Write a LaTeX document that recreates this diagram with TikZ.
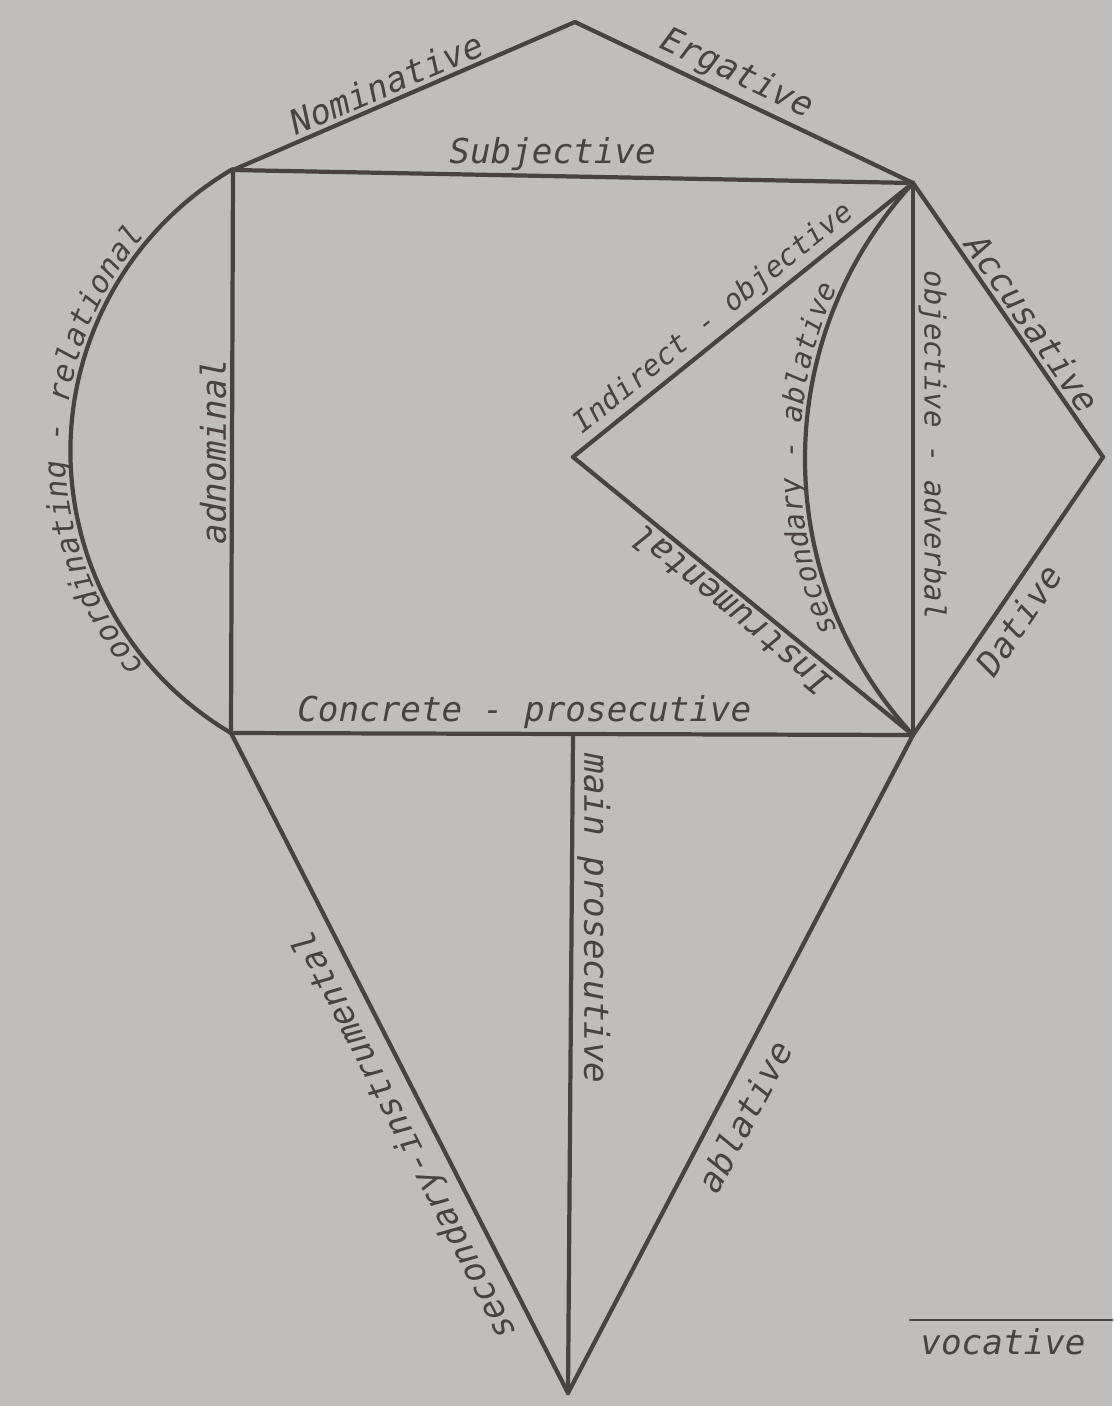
\documentclass[tikz,border=0pt]{standalone}
\usepackage{fontspec}
\newfontfamily\labfamily{DejaVu Sans Mono}
\usetikzlibrary{decorations.text}
\definecolor{paper}{RGB}{192,190,188}
\definecolor{ink}{RGB}{72,66,66}

\begin{document}
\begin{tikzpicture}[
  x=0.2mm, y=-0.2mm,
  ln/.style={draw=ink, line width=2.4pt, line join=round, line cap=round},
  lbl/.style={text=ink, font=\labfamily\itshape\fontsize{19.5}{22}\selectfont, inner sep=2pt},
  tight/.style={lbl, font=\labfamily\itshape\fontsize{16.5}{20}\selectfont},
  along/.style 2 args={decorate,
    decoration={text effects along path, text={#2}, text align=center,
                raise=3pt, text effects/.cd, text along path, characters={#1}}}
]
\fill[paper] (0,0) rectangle (1112,1406);

% Corners of the figure, in picture units (y runs down).
\coordinate (A)   at (575,22);
\coordinate (TL)  at (233,170);
\coordinate (TR)  at (913,183);
\coordinate (BL)  at (231,733);
\coordinate (BR)  at (913,735);
\coordinate (R)   at (1103,457);
\coordinate (M)   at (573,457);
\coordinate (Bc)  at (573,734);
\coordinate (Bot) at (568,1393);

% Roof and square.
\draw[ln] (TL) -- node[lbl, sloped, above, pos=.47] (nom) {Nominative} (A);
\draw[ln] (A) -- node[lbl, sloped, above, pos=.45] (erg) {Ergative} (TR);
\draw[ln] (TL) -- node[lbl, above, pos=.47] (subj) {Subjective} (TR);
\draw[ln] (BL) -- node[lbl, above, pos=.43] (concr) {Concrete - prosecutive} (BR);
\draw[ln] (BL) -- node[lbl, pos=.5, rotate=90, anchor=south] (adnom) {adnominal} (TL);

% Left half-circle with its label running round it.
\draw[ln] (BL) arc[start angle=120.6, end angle=239.7, radius=327];
\path[along={lbl, font=\labfamily\itshape\fontsize{17.5}{20}\selectfont, inner sep=0pt}{coordinating - relational}]
  (BL) arc[start angle=120.6, end angle=239.7, radius=327];

% Right diamond.
\draw[ln] (TR) -- node[lbl, sloped, above, pos=.55] (acc) {Accusative} (R);
\draw[ln] (BR) -- node[lbl, inner sep=4pt, sloped, below, pos=.46] (dat) {Dative} (R);
\draw[ln] (TR) -- node[tight, pos=.475, rotate=-90, anchor=south] (objadv) {objective - adverbal} (BR);

% Inner wedge and lens.
\draw[ln] (M) -- node[tight, sloped, above, pos=.45] (indir) {Indirect - objective} (TR);
\draw[ln] (M) -- node[lbl, pos=.5, rotate=140.7, anchor=south] (instr) {Instrumental} (BR);
\draw[ln] (TR) .. controls +(-144,156) and +(-144,-156) .. (BR);
\path[along={tight, inner sep=0pt}{secondary - ablative}]
  (BR) .. controls +(-144,-156) and +(-144,156) .. (TR);

% Lower triangle.
\draw[ln] (Bot) -- node[lbl, inner sep=5pt, pos=.41, rotate=117, anchor=south] (secinstr) {secondary-instrumental} (BL);
\draw[ln] (Bot) -- node[lbl, inner sep=7pt, sloped, below, pos=.44] (abl) {ablative} (BR);
\draw[ln] (Bc) -- node[lbl, pos=.28, rotate=-90, anchor=south] (mainpro) {main prosecutive} (Bot);

% Vocative, apart.
\node[lbl] (voc) at (1003,1342) {vocative};
\coordinate (vocL) at (910,1320);
\coordinate (vocR) at (1112,1320);
\draw[ln, line width=1.6pt] (vocL) -- (vocR);

\end{tikzpicture}
\end{document}
